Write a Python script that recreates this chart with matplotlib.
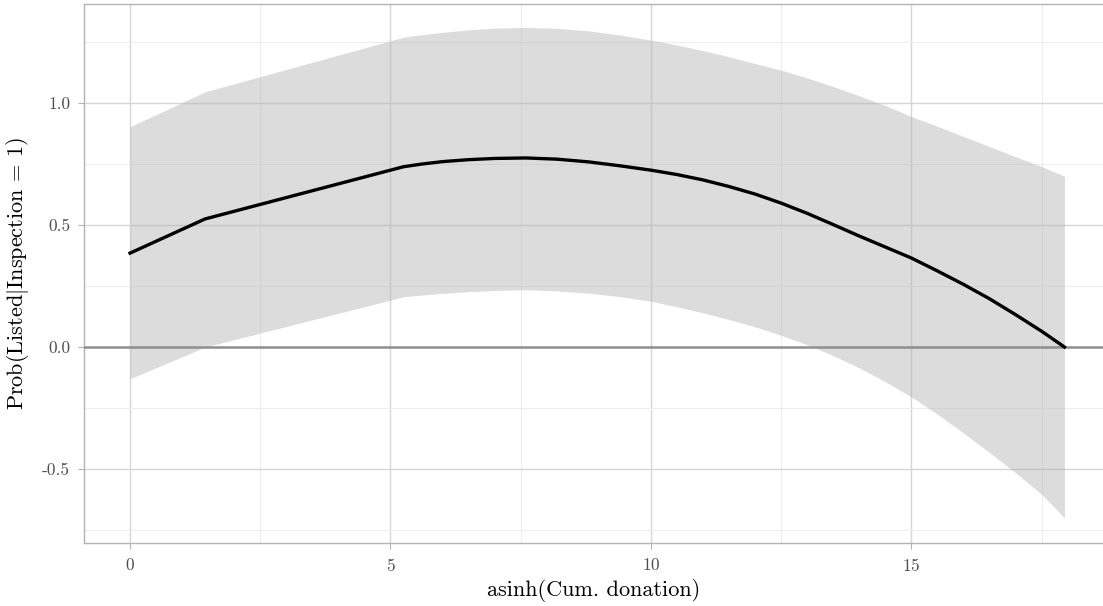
import matplotlib
matplotlib.use("Agg")
import matplotlib.pyplot as plt
import numpy as np

plt.rcParams['font.family'] = ['cmr10', 'DejaVu Serif']
plt.rcParams['mathtext.fontset'] = 'cm'
plt.rcParams['axes.unicode_minus'] = False
plt.rcParams['axes.formatter.use_mathtext'] = True

# values
donation = [0, 1.44, 5.25, 5.6, 6.0, 6.5, 7.0, 7.6, 8.2, 8.8, 9.4, 10.0,
            10.5, 11.0, 11.5, 12.0, 12.5, 13.0, 13.5, 14.0, 14.5, 15.0,
            15.5, 16.0, 16.5, 17.0, 17.5, 17.94]
prob = [0.385, 0.525, 0.739, 0.750, 0.760, 0.768, 0.773, 0.775, 0.770,
        0.759, 0.743, 0.725, 0.707, 0.685, 0.658, 0.627, 0.590, 0.548,
        0.502, 0.455, 0.410, 0.365, 0.312, 0.257, 0.198, 0.133, 0.065, 0.0]
upper = [0.903, 1.046, 1.270, 1.280, 1.290, 1.300, 1.307, 1.310, 1.306,
         1.296, 1.279, 1.258, 1.238, 1.215, 1.190, 1.162, 1.135, 1.103,
         1.068, 1.030, 0.990, 0.945, 0.905, 0.863, 0.822, 0.780, 0.740, 0.700]
lower = [-0.13, 0.0, 0.206, 0.213, 0.220, 0.227, 0.232, 0.235, 0.230,
         0.221, 0.207, 0.188, 0.165, 0.140, 0.113, 0.083, 0.048, 0.010,
         -0.035, -0.085, -0.142, -0.204, -0.275, -0.352, -0.432, -0.515,
         -0.603, -0.700]

xticks = [0, 5, 10, 15]
yticks = [-0.5, 0.0, 0.5, 1.0]
ytick_labels = ['-0.5', '0.0', '0.5', '1.0']

fig = plt.figure(figsize=(11.03, 6.06), dpi=100)
ax = fig.add_axes([0.0762, 0.104, 0.9238, 0.8894])

ax.set_xlim(-0.883, 18.68)
ax.set_ylim(-0.803, 1.406)

# grid
ax.set_xticks(xticks)
ax.set_xticks([2.5, 7.5, 12.5, 17.5], minor=True)
ax.set_yticks(yticks)
ax.set_yticks([-0.75, -0.25, 0.25, 0.75, 1.25], minor=True)
ax.set_yticklabels(ytick_labels)
ax.grid(which='major', color='#d6d6d6', linewidth=1.0)
ax.grid(which='minor', color='#ededed', linewidth=0.8)
ax.set_axisbelow(True)

ax.fill_between(donation, lower, upper, color='#b3b3b3', alpha=0.45,
                linewidth=0, zorder=2)
ax.axhline(0, color='#8f8f8f', linewidth=1.8, zorder=3)
ax.plot(donation, prob, color='black', linewidth=2.4, zorder=4)

for s in ['left', 'bottom', 'top']:
    ax.spines[s].set_color('#b3b3b3')
    ax.spines[s].set_linewidth(1.0)
ax.spines['right'].set_visible(False)

ax.tick_params(which='major', length=4, color='#b3b3b3', labelsize=12.5,
               labelcolor='#4d4d4d', pad=6)
ax.tick_params(which='minor', length=0)

ax.set_xlabel('asinh(Cum. donation)', fontsize=16, labelpad=4)
ax.set_ylabel(r'Prob(Listed$|$Inspection = 1)', fontsize=16, labelpad=8)

fig.savefig('out.png', dpi=100)
